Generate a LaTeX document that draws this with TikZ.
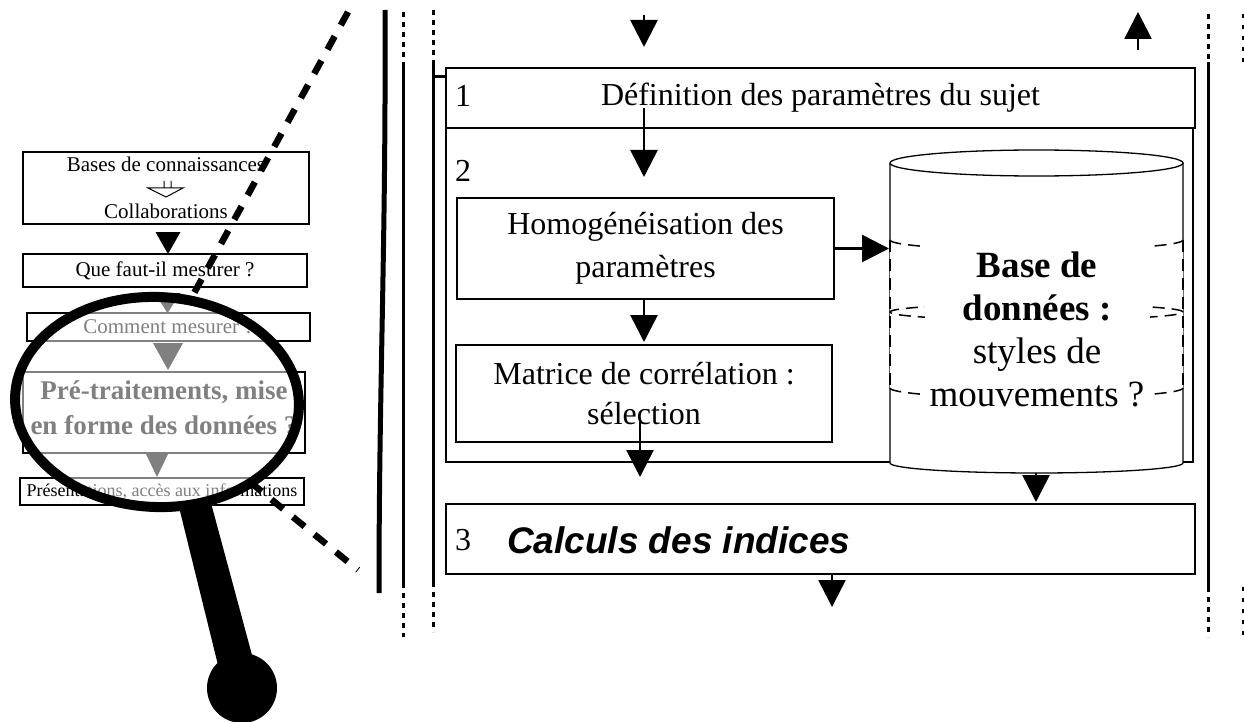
\documentclass[tikz,border=0pt]{standalone}
\usepackage{fontspec}
\setmainfont{Liberation Serif}
\newfontfamily\arialfont{Liberation Sans}
\usetikzlibrary{arrows.meta,calc}
\definecolor{lgray}{RGB}{128,128,128}
\tikzset{
  every node/.style={inner sep=0pt, outer sep=0pt},
  bx/.style={draw, line width=1.5pt, rectangle},
  arr/.style={line width=2.7pt, -{Triangle[length=27pt,width=27pt]}},
  vline/.style={line width=3pt},
  vdash/.style={line width=3pt, dash pattern=on 5pt off 5pt},
  tdash/.style={line width=2pt, dash pattern=on 4pt off 7pt},
  lensdash/.style={line width=6.5pt, dash pattern=on 15pt off 12.7pt},
  cyl/.style={line width=1.3pt},
  cyldash/.style={line width=1.5pt, dash pattern=on 12pt off 7pt},
  tbig/.style={font=\fontsize{32}{43}\selectfont},
}
\newcommand\ltri[4]{\fill[#1] (#2) -- ++(-#3/2,-#4) -- ++(#3,0) -- cycle;}
\newcommand\leftpanel[2]{%
  \node[bx, draw=#1, text=#1, minimum width=286pt, minimum height=72pt, align=center,
        font=\fontsize{21}{25}\selectfont] (#2bases) at (166,188)
        {Bases de connaissances\\[22pt]Collaborations};
  \draw[#1, line width=1pt] (164,181) -- (164,188) (171,181) -- (171,188)
        (148,188) -- (183,188) -- (166,197) -- cycle;
  \node[bx, draw=#1, text=#1, minimum width=284pt, minimum height=33pt,
        font=\fontsize{21}{25}\selectfont] (#2que) at (165,270.5) {Que faut-il mesurer ?};
  \node[bx, draw=#1, text=#1, minimum width=283pt, minimum height=28pt,
        font=\fontsize{21}{25}\selectfont] (#2com) at (168.5,327) {Comment mesurer ?};
  \node[bx, draw=#1, minimum width=282pt, minimum height=81pt,
        label={[yshift=5pt, text=#1, align=center, font=\fontsize{27}{35}\selectfont\bfseries]center:{Pré-traitements, mise\\en forme des données ?}}]
        (#2pre) at (164,412.5) {};
  \node[bx, draw=#1, text=#1, minimum width=284pt, minimum height=27pt,
        font=\fontsize{18}{22}\selectfont] (#2pres) at (162,491.5)
        {Présentations, accès aux informations};
  \ltri{#1}{[xshift=3pt]#2que.north}{25}{22}
  \ltri{#1}{[xshift=-1pt]#2com.north}{26}{20}
  \ltri{#1}{[xshift=4pt,yshift=2pt]#2pre.north}{30}{27}
  \ltri{#1}{[xshift=-5pt,yshift=1pt]#2pres.north}{23}{24}
}
\begin{document}
\begin{tikzpicture}[x=1pt,y=-1pt]
\useasboundingbox (0,0) rectangle (1244,722);

% ---------- left panel (magnifier) ----------
\leftpanel{black}{a}
\begin{scope}
  \clip[rotate around={-2.5:(157,402)}] (157,402) ellipse [x radius=138pt, y radius=101pt];
  \fill[white] (0,280) rectangle (330,530);
  \leftpanel{lgray}{g}
\end{scope}
\draw[lensdash] (348,12) -- (193,295);
\draw[lensdash] (250,482) -- (358,570);
\draw[line width=10pt, rotate around={-2.5:(157,402)}] (157,402) ellipse [x radius=142pt, y radius=105pt];
\fill (178,503) -- (211,503) -- (252,655) -- (218,665) -- cycle;
\fill (242,688) circle[radius=35pt];

% ---------- vertical bars ----------
\draw[line width=5pt] (385,10) .. controls (386,250) and (379,380) .. (379,593);
\draw[vdash] (403,12) -- (403,62);
\draw[vline] (403,62) -- (403,583);
\draw[vdash] (403,583) -- (403,637);
\draw[vdash] (433,10) -- (433,62);
\draw[vline] (433,62) -- (433,582);
\draw[vdash] (433,582) -- (433,632);
\draw[vline] (433,77) -- (446,77);
\draw[vdash] (1208,14) -- (1208,62);
\draw[vline] (1208,62) -- (1208,587);
\draw[vdash] (1208,587) -- (1208,637);
\draw[tdash] (1243,14) -- (1243,65);
\draw[tdash] (1243,587) -- (1243,637);

% ---------- boxes ----------
\node[bx, minimum width=747pt, minimum height=334pt] (box2) at (819.5,295) {};
\node[bx, tbig, minimum width=749pt, minimum height=60pt, fill=white] (box1) at (820.5,98)
     {Définition des paramètres du sujet};
\node[tbig, anchor=west] (n1) at (455,96) {1};
\node[tbig, anchor=west] (n2) at (455,171) {2};
\node[bx, tbig, align=center, minimum width=377pt, minimum height=101pt] (homog) at (645.5,248.5)
     {Homogénéisation des\\paramètres};
\node[bx, align=center, minimum width=376pt, minimum height=97pt, font=\fontsize{32}{40}\selectfont]
     (matrice) at (644,393.5) {Matrice de corrélation :\\sélection};
\node[bx, minimum width=749pt, minimum height=70pt] (box3) at (820.5,539) {};
\node[tbig, anchor=west] (n3) at (455,540) {3};
\node[font=\arialfont\bfseries\itshape\fontsize{37}{44}\selectfont, anchor=west] (calc) at (507,540)
     {Calculs des indices};

% ---------- cylinder ----------
\fill[white] (890,163) -- (890,463) arc[start angle=180, end angle=360, x radius=146.5pt, y radius=10pt]
     -- (1183,163) -- cycle;
\draw[cyl] (890,163) -- (890,463) arc[start angle=180, end angle=360, x radius=146.5pt, y radius=10pt]
     -- (1183,163);
\draw[cyl, fill=white] (1036.5,163) ellipse [x radius=146.5pt, y radius=13pt];
% dashed inner can
\fill[white] (890,240) arc[start angle=180, end angle=360, x radius=146.5pt, y radius=10pt]
     -- (1183,388) arc[start angle=0, end angle=-180, x radius=146.5pt, y radius=10pt] -- cycle;
\draw[cyldash] (890,240) -- (890,388);
\draw[cyldash] (1183,240) -- (1183,388);
\draw[cyldash] (890,240) arc[start angle=180, end angle=360, x radius=146.5pt, y radius=10pt];
\draw[cyldash] (1036.5,312) ellipse [x radius=146.5pt, y radius=8pt];
\draw[cyldash] (890,388) arc[start angle=180, end angle=360, x radius=146.5pt, y radius=10pt];
\fill[white] (925,232) rectangle (1150,412);
\node[align=center, font=\fontsize{37}{43}\selectfont] (db) at (1037,329)
     {\textbf{Base de}\\\textbf{données :}\\styles de\\mouvements ?};

% ---------- arrows ----------
\coordinate (inTop) at (644,15);
\coordinate (inTip) at (644,47);
\draw[arr] (inTop) -- (inTip);
\coordinate (a1s) at (644,108);
\coordinate (a1e) at (644,177);
\draw[arr] (a1s) -- (a1e);
\draw[arr] ([xshift=-1.5pt]homog.south) -- ([yshift=3pt]matrice.north);
\coordinate (a3s) at (640,420);
\coordinate (a3e) at (640,477);
\draw[arr] (a3s) -- (a3e);
\coordinate (dbin) at (889,248.5);
\draw[arr] (homog.east) -- (dbin);
\coordinate (dbout) at (1036,473);
\coordinate (dbtip) at (1036,502);
\draw[arr] (dbout) -- (dbtip);
\coordinate (outTip) at (832,607);
\draw[arr] ([xshift=11.5pt]box3.south) -- (outTip);
\coordinate (upS) at (1138,50);
\coordinate (upT) at (1138,12);
\draw[arr] (upS) -- (upT);
\end{tikzpicture}
\end{document}
